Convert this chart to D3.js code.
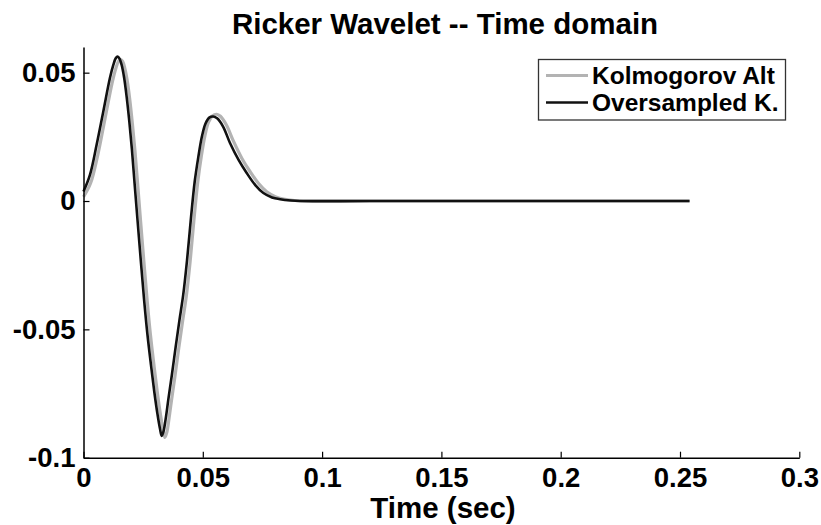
<!DOCTYPE html>
<html>
<head>
<meta charset="utf-8">
<script src="https://cdn.jsdelivr.net/npm/d3@7"></script>
<style>
body { margin: 0; background: #fff; }
text { font-family: "Liberation Sans", Arial, sans-serif; font-weight: bold; fill: #000; }
</style>
</head>
<body>
<svg id="wavelet" width="821" height="525"></svg>
<script>
// time (sec) and amplitude
var kolmoTime = [0, 0.0030, 0.0060, 0.0090, 0.0120, 0.0136, 0.0147, 0.0156, 0.0164, 0.0173, 0.0183,
    0.0194, 0.0205, 0.0216, 0.0227, 0.0239, 0.0253, 0.0267, 0.0281, 0.0296, 0.0310, 0.0323,
    0.0333, 0.0341, 0.0349, 0.0358, 0.0369, 0.0383, 0.0399, 0.0415, 0.0431, 0.0447, 0.0463,
    0.0479, 0.0494, 0.0509, 0.0524, 0.0540, 0.0558, 0.0574, 0.0599, 0.0628, 0.0664, 0.0698,
    0.0734, 0.0768, 0.0804, 0.0838, 0.0884, 0.0920, 0.1200, 0.1800, 0.2540];
var kolmoValue = [0.0016, 0.0070, 0.0180, 0.0320, 0.0460, 0.0518, 0.0545, 0.0551, 0.0544, 0.0518, 0.0470,
    0.0395, 0.0300, 0.0192, 0.0066, -0.0075, -0.0235, -0.0390, -0.0525, -0.0645, -0.0750, -0.0835,
    -0.0889, -0.0921, -0.0902, -0.0850, -0.0775, -0.0685, -0.0575, -0.0470, -0.0370, -0.0235, -0.0072,
    0.0075, 0.0175, 0.0255, 0.0307, 0.0331, 0.0338, 0.0330, 0.0296, 0.0234, 0.0166, 0.0115,
    0.0068, 0.0036, 0.0017, 0.0008, 0.0002, 0.0, 0.0, 0.0, 0.0];

var overTime = [0, 0.0027, 0.0055, 0.0083, 0.0111, 0.0125, 0.0135, 0.0143, 0.0151, 0.0160, 0.0170,
    0.0181, 0.0192, 0.0203, 0.0214, 0.0226, 0.0240, 0.0254, 0.0268, 0.0283, 0.0297, 0.0310,
    0.0320, 0.0328, 0.0336, 0.0345, 0.0356, 0.0370, 0.0386, 0.0402, 0.0418, 0.0434, 0.0450,
    0.0466, 0.0481, 0.0496, 0.0511, 0.0527, 0.0544, 0.0560, 0.0585, 0.0614, 0.0650, 0.0684,
    0.0720, 0.0754, 0.0790, 0.0824, 0.0870, 0.0907, 0.1200, 0.1800, 0.2540];
var overValue = [0.0037, 0.0102, 0.0219, 0.0349, 0.0480, 0.0530, 0.0556, 0.0563, 0.0555, 0.0530, 0.0482,
    0.0405, 0.0310, 0.0200, 0.0070, -0.0070, -0.0230, -0.0385, -0.0520, -0.0640, -0.0745, -0.0830,
    -0.0884, -0.0915, -0.0895, -0.0845, -0.0770, -0.0680, -0.0570, -0.0465, -0.0365, -0.0230, -0.0070,
    0.0075, 0.0170, 0.0250, 0.0301, 0.0325, 0.0329, 0.0322, 0.0290, 0.0226, 0.0160, 0.0109,
    0.0062, 0.0031, 0.0014, 0.0007, 0.0002, 0.0, 0.0, 0.0, 0.0];

var xTicks = [0, 0.05, 0.1, 0.15, 0.2, 0.25, 0.3];
var xTickLabels = ["0", "0.05", "0.1", "0.15", "0.2", "0.25", "0.3"];
var yTicks = [-0.1, -0.05, 0, 0.05];
var yTickLabels = ["-0.1", "-0.05", "0", "0.05"];
var seriesNames = ["Kolmogorov Alt", "Oversampled K."];
var seriesColors = ["#b3b3b3", "#111111"];

var xScale = d3.scaleLinear().domain([0, 0.3]).range([83.5, 799.3]);
var yScale = d3.scaleLinear().domain([-0.1, 0.06]).range([457.7, 47]);

var svg = d3.select("#wavelet");

var toPoints = function(ts, vs) {
    return ts.map(function(t, i) { return {t: t, v: vs[i]}; });
};

var drawLines = function() {
    var line = d3.line()
        .x(function(d) { return xScale(d.t); })
        .y(function(d) { return yScale(d.v); })
        .curve(d3.curveCatmullRom.alpha(0.5));
    var data = [toPoints(kolmoTime, kolmoValue), toPoints(overTime, overValue)];
    var widths = [3.2, 2.6];
    svg.append("g")
        .selectAll("path")
        .data(data)
        .enter()
        .append("path")
        .attr("d", line)
        .attr("fill", "none")
        .attr("stroke", function(d, i) { return seriesColors[i]; })
        .attr("stroke-width", function(d, i) { return widths[i]; })
        .attr("stroke-linejoin", "round");
};

var drawAxes = function() {
    var xAxis = d3.axisBottom(xScale)
        .tickValues(xTicks)
        .tickFormat(function(d, i) { return xTickLabels[i]; })
        .tickSizeInner(-6)
        .tickSizeOuter(0)
        .tickPadding(10);
    var yAxis = d3.axisLeft(yScale)
        .tickValues(yTicks)
        .tickFormat(function(d, i) { return yTickLabels[i]; })
        .tickSizeInner(-6)
        .tickSizeOuter(0)
        .tickPadding(8);

    var gx = svg.append("g")
        .attr("transform", "translate(0," + yScale(-0.1) + ")")
        .call(xAxis);
    var gy = svg.append("g")
        .attr("transform", "translate(" + xScale(0) + ",0)")
        .call(yAxis);

    [gx, gy].forEach(function(g) {
        g.select(".domain").attr("stroke", "#000").attr("stroke-width", 1.5);
        g.selectAll(".tick line").attr("stroke", "#000").attr("stroke-width", 1.2);
        g.selectAll(".tick text")
            .attr("font-size", 27.5)
            .attr("font-family", "Liberation Sans, Arial, sans-serif")
            .attr("font-weight", "bold")
            .attr("fill", "#000");
    });
    gx.selectAll(".tick text").attr("dy", "0.71em");
};

var createLabels = function() {
    svg.append("text")
        .text("Ricker Wavelet -- Time domain")
        .attr("x", 445)
        .attr("y", 34)
        .attr("text-anchor", "middle")
        .attr("font-size", 29.5);
    svg.append("text")
        .text("Time (sec)")
        .attr("x", 443)
        .attr("y", 518)
        .attr("text-anchor", "middle")
        .attr("font-size", 29.5);
};

var drawLegend = function() {
    var legend = svg.append("g");
    legend.append("rect")
        .attr("x", 538.5)
        .attr("y", 59.5)
        .attr("width", 247)
        .attr("height", 60.5)
        .attr("fill", "#fff")
        .attr("stroke", "#333")
        .attr("stroke-width", 1.3);
    var rows = legend.selectAll("g.row")
        .data(seriesNames)
        .enter()
        .append("g")
        .attr("class", "row")
        .attr("transform", function(d, i) { return "translate(0," + (75.5 + i * 27) + ")"; });
    rows.append("line")
        .attr("x1", 546)
        .attr("x2", 588)
        .attr("stroke", function(d, i) { return seriesColors[i]; })
        .attr("stroke-width", function(d, i) { return i === 0 ? 3 : 2.6; });
    rows.append("text")
        .text(function(d) { return d; })
        .attr("x", 592)
        .attr("y", 8.5)
        .attr("font-size", 24.5);
};

drawLines();
drawAxes();
createLabels();
drawLegend();
</script>
</body>
</html>
